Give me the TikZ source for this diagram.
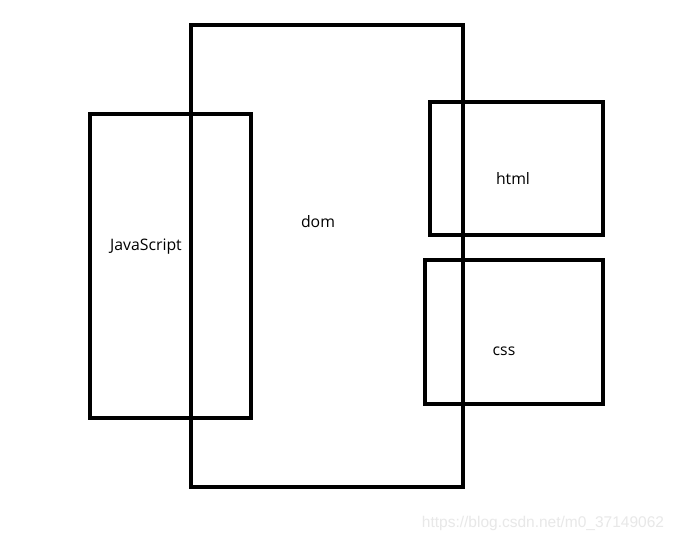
\documentclass[tikz,border=0pt]{standalone}
\usepackage{fontspec}
\setmainfont{Open Sans}
\newfontfamily\wmfont{Liberation Sans}
\begin{document}
\begin{tikzpicture}[x=1pt,y=-1pt,
  box/.style={draw=black,line width=4.5pt},
  lbl/.style={font=\fontsize{15.8}{18}\selectfont,text=black,inner sep=0pt},
  wm/.style={font=\wmfont\fontsize{15.5}{17}\selectfont,text=black!9,inner sep=0pt}]
\useasboundingbox[fill=white] (0,0) rectangle (676,542);
\draw[box] (191,25) rectangle (463,487);
\draw[box] (90,114) rectangle (251,418);
\draw[box] (430,102) rectangle (603,235);
\draw[box] (425,260) rectangle (603,404);
\node[lbl] (dom) at (318,221.5) {dom};
\node[lbl] (js) at (146,246.5) {JavaScript};
\node[lbl] (html) at (513,179) {html};
\node[lbl] (css) at (504,351.5) {css};
\node[wm] (mark) at (543,523) {https://blog.csdn.net/m0\_37149062};
\end{tikzpicture}
\end{document}
